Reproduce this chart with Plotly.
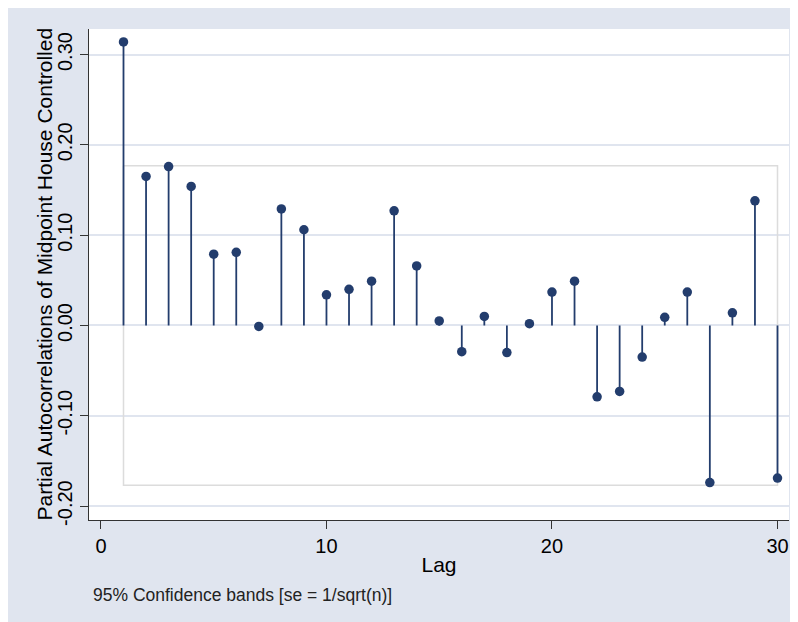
import plotly.graph_objects as go

# ---- data ----
lags = list(range(1, 31))
pacf = [0.314, 0.165, 0.176, 0.154, 0.079, 0.081, -0.001, 0.129, 0.106, 0.034,
        0.040, 0.049, 0.127, 0.066, 0.005, -0.029, 0.010, -0.030, 0.002, 0.037,
        0.049, -0.079, -0.073, -0.035, 0.009, 0.037, -0.174, 0.014, 0.138, -0.169]
ci_upper = [0.177] * 30
ci_lower = [-0.177] * 30

x_ticks = [0, 10, 20, 30]
y_ticks = [-0.20, -0.10, 0.00, 0.10, 0.20, 0.30]
y_tick_labels = ["-0.20", "-0.10", "0.00", "0.10", "0.20", "0.30"]

NAVY = "#233d6d"
PANEL = "#e0e5ef"
GRID = "#e0e5ef"
BAND = "#dcdcdc"
FONT = "Liberation Sans, Arial, sans-serif"

fig = go.Figure()

# confidence band outline
band_x = lags + lags[::-1] + [lags[0]]
band_y = ci_upper + ci_lower[::-1] + [ci_upper[0]]
fig.add_trace(go.Scatter(x=band_x, y=band_y, mode="lines",
                         line=dict(color=BAND, width=1.5), hoverinfo="skip",
                         showlegend=False))

# stems
sx, sy = [], []
for l, v in zip(lags, pacf):
    sx += [l, l, None]
    sy += [0, v, None]
fig.add_trace(go.Scatter(x=sx, y=sy, mode="lines",
                         line=dict(color=NAVY, width=1.8), hoverinfo="skip",
                         showlegend=False))

# markers
fig.add_trace(go.Scatter(x=lags, y=pacf, mode="markers",
                         marker=dict(color=NAVY, size=9.5), showlegend=False))

# figure sits inside the page's 8px body margin
W, H = 790, 614
L, R, T, B = 81, 9, 21, 102
pw, ph = W - L - R, H - T - B

def px(xp):
    return (xp - L) / pw

def py(yp):
    return (H - B - yp) / ph

fig.update_layout(
    width=W, height=H,
    margin=dict(l=L, r=R, t=T, b=B, autoexpand=False),
    paper_bgcolor=PANEL, plot_bgcolor="white",
    font=dict(family=FONT, color="#000000"),
    xaxis=dict(range=[-0.53, 30.51], tickvals=x_ticks, ticktext=[str(t) for t in x_ticks],
               showgrid=False, zeroline=False, showline=True, linecolor="#333333", linewidth=1,
               ticks="outside", ticklen=8, tickcolor="#333333", tickwidth=1,
               tickfont=dict(size=20, family=FONT),
               title=dict(text="Lag", font=dict(size=21, family=FONT), standoff=1)),
    yaxis=dict(range=[-0.2154, 0.3283], tickvals=y_ticks, ticktext=y_tick_labels,
               tickangle=-90, showgrid=True, gridcolor=GRID, gridwidth=1.5,
               zeroline=False, showline=True, linecolor="#333333", linewidth=1,
               ticks="outside", ticklen=8, tickcolor="#333333", tickwidth=1,
               tickfont=dict(size=20, family=FONT)),
    annotations=[
        dict(text="Partial Autocorrelations of Midpoint House Controlled",
             xref="paper", yref="paper", x=px(44 - 8), y=0.5, textangle=-90,
             xanchor="center", yanchor="middle", showarrow=False,
             font=dict(size=21, family=FONT, color="#000000")),
        dict(text="95% Confidence bands [se = 1/sqrt(n)]", xref="paper", yref="paper",
             x=px(91 - 8), y=py(595 - 8), xanchor="left", yanchor="middle", showarrow=False,
             font=dict(size=17.5, family=FONT, color="#222222")),
    ],
)

fig.write_html("out.html")
